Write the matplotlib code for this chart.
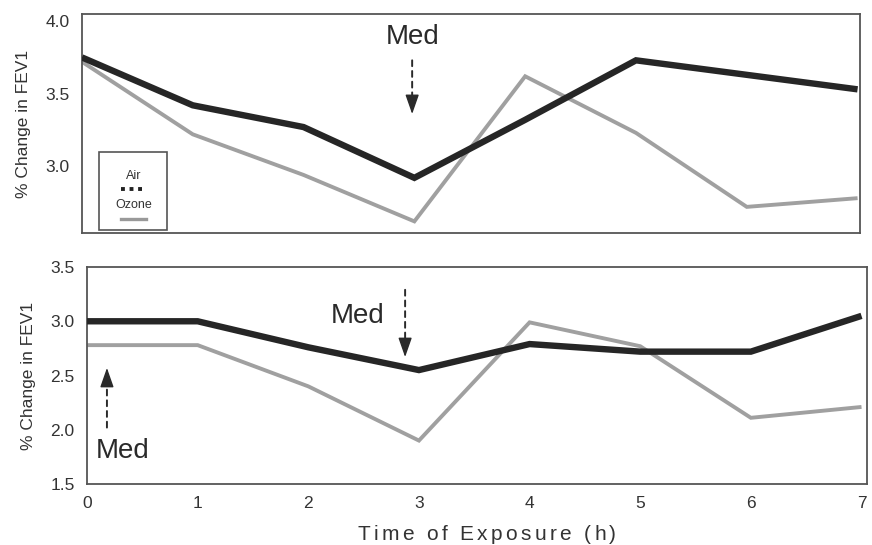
import matplotlib
matplotlib.use('Agg')
import matplotlib.pyplot as plt
from matplotlib.patches import Rectangle
from matplotlib.lines import Line2D

plt.rcParams['font.family'] = ['Liberation Sans', 'DejaVu Sans']

hours = [0, 1, 2, 3, 4, 5, 6, 7]

# top panel
air_top = [3.75, 3.42, 3.27, 2.92, 3.32, 3.73, 3.63, 3.53]
ozone_top = [3.72, 3.22, 2.94, 2.62, 3.62, 3.23, 2.72, 2.78]

# bottom panel
air_bot = [3.0, 3.0, 2.76, 2.55, 2.79, 2.72, 2.72, 3.05]
ozone_bot = [2.78, 2.78, 2.40, 1.90, 2.99, 2.77, 2.11, 2.21]

top_yticks = [3.0, 3.5, 4.0]
bot_yticks = [1.5, 2.0, 2.5, 3.0, 3.5]

INK = '#2a2a2a'

fig = plt.figure(figsize=(8.72, 5.45), dpi=100)
ax1 = fig.add_axes([0.094, 0.5725, 0.892, 0.402])
ax2 = fig.add_axes([0.0998, 0.112, 0.8945, 0.398])

air_kw = dict(color='#262626', lw=4.6, solid_joinstyle='miter', solid_capstyle='butt', zorder=3)
oz_kw = dict(color='#a0a0a0', lw=2.8, solid_joinstyle='miter', solid_capstyle='butt', zorder=2)

ax1.plot(hours, ozone_top, **oz_kw)
ax1.plot(hours, air_top, **air_kw)
ax2.plot(hours, ozone_bot, **oz_kw)
ax2.plot(hours, air_bot, **air_kw)

ax1.set_xlim(0, 7.02)
ax1.set_ylim(2.54, 4.05)
ax2.set_xlim(0, 7.05)
ax2.set_ylim(1.5, 3.5)

ax1.set_xticks([])
ax1.set_yticks(top_yticks)
ax1.set_yticklabels(['%.1f' % v for v in top_yticks])
ax2.set_xticks(hours)
ax2.set_yticks(bot_yticks)
ax2.set_yticklabels(['%.1f' % v for v in bot_yticks])

for ax in (ax1, ax2):
    ax.tick_params(length=0, labelsize=12.5, colors='#333333', pad=9)
    for s in ax.spines.values():
        s.set_color('#555555')
        s.set_linewidth(1.3)
    ax.set_ylabel('% Change in FEV1', fontsize=12.5, color='#333333', labelpad=10)

ax2.tick_params(axis='x', pad=9)


def spaced_text(x_px, y_px, s, total_px, **kw):
    # x label of the scan is letter spaced; place it char by char
    r = fig.canvas.get_renderer()

    def width(txt):
        t = fig.text(0, 0, txt + 'x', **kw)
        w = t.get_window_extent(r).width
        t.remove()
        t = fig.text(0, 0, 'x', **kw)
        w -= t.get_window_extent(r).width
        t.remove()
        return w

    full = width(s)
    gap = (total_px - full) / (len(s) - 1)
    x0 = x_px - total_px / 2
    for i, ch in enumerate(s):
        px = x0 + width(s[:i]) + i * gap
        fig.text(px / fig.bbox.width, y_px / fig.bbox.height, ch,
                 ha='left', va='center', **kw)


spaced_text(487, 545 - 535, 'Time of Exposure (h)', 258, fontsize=15, color='#333333')

# legend box drawn by hand (label above the line sample)
ax1.add_patch(Rectangle((0.022, 0.015), 0.087, 0.355, transform=ax1.transAxes,
                        fill=False, ec='#555555', lw=1.2, zorder=5))
ax1.text(0.066, 0.26, 'Air', transform=ax1.transAxes, ha='center', va='center',
         fontsize=9, color='#333333')
ax1.add_line(Line2D([0.050, 0.082], [0.20, 0.20], transform=ax1.transAxes,
                    color='#222222', lw=2.8, ls=(0, (1, 1.2))))
ax1.text(0.066, 0.13, 'Ozone', transform=ax1.transAxes, ha='center', va='center',
         fontsize=9, color='#333333')
ax1.add_line(Line2D([0.050, 0.082], [0.065, 0.065], transform=ax1.transAxes,
                    color='#999999', lw=2.4))


def med_arrow(ax, x, y_tail, y_tip, head_frac):
    ax.annotate('', xy=(x, y_tip + (y_tail - y_tip) * head_frac), xytext=(x, y_tail),
                arrowprops=dict(arrowstyle='-', ls=(0, (3, 2.5)), color=INK, lw=1.4,
                                shrinkA=0, shrinkB=0))
    ax.annotate('', xy=(x, y_tip), xytext=(x, y_tip + (y_tail - y_tip) * head_frac),
                arrowprops=dict(arrowstyle='-|>,head_length=1.2,head_width=0.42',
                                color=INK, lw=1.0, shrinkA=0, shrinkB=0))


# medication markers
med_arrow(ax1, 2.98, 3.73, 3.36, 0.3)
ax1.text(2.98, 3.89, 'Med', ha='center', va='center', fontsize=20, color=INK)

med_arrow(ax2, 2.875, 3.29, 2.67, 0.25)
ax2.text(2.69, 3.05, 'Med', ha='right', va='center', fontsize=20, color=INK)

med_arrow(ax2, 0.18, 2.02, 2.57, 0.3)
ax2.text(0.08, 1.8, 'Med', ha='left', va='center', fontsize=20, color=INK)

fig.savefig('out.png', dpi=100)
